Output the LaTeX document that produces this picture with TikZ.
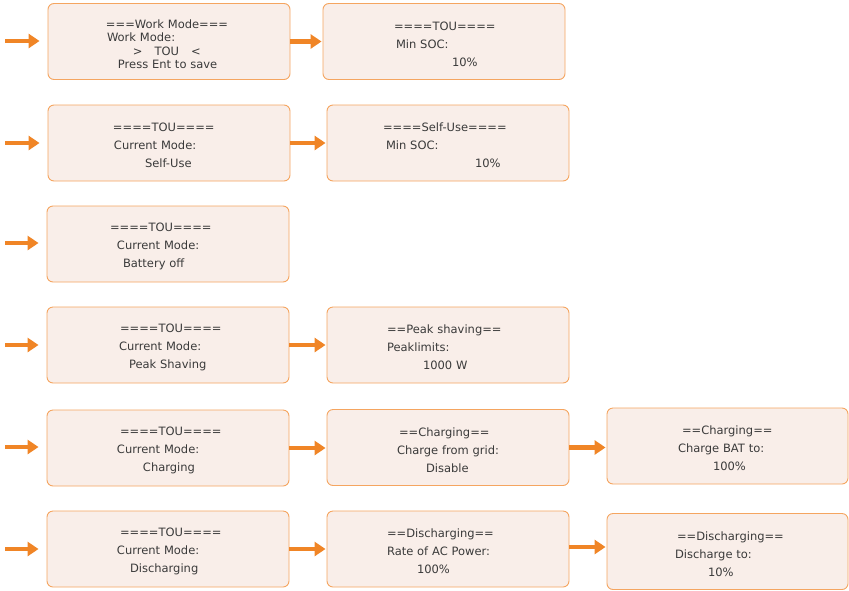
\documentclass[tikz,border=0pt]{standalone}
\usepackage{fontspec}
\setmainfont{DejaVu Sans}
\usepackage{tikz}
\usetikzlibrary{arrows.meta,positioning}

\definecolor{lcdfill}{HTML}{F9EEE9}
\definecolor{lcdline}{HTML}{F5A560}
\definecolor{arrowor}{HTML}{F08526}
\definecolor{lcdtext}{HTML}{3A3A3A}
\newcommand{\ind}[1]{\hspace*{#1pt}}

\begin{document}
\begin{tikzpicture}[x=1pt,y=-1pt,
  flow/.style={draw=arrowor,line width=4.5pt,-{Triangle[length=11pt,width=14pt]}},
  screen/.style={draw=lcdline,fill=lcdfill,line width=.9pt,rounded corners=6pt,
    text=lcdtext,align=left,text width=242pt,minimum height=76pt,
    inner xsep=0pt,inner ysep=0pt,font=\fontsize{11.5}{18}\selectfont,
    execute at begin node={\rule{0pt}{14pt}}}]
\useasboundingbox (0,0) rectangle (849,590);

\node[screen,font=\fontsize{11.5}{13.4}\selectfont] (workmode) at (169,41.5)
  {\ind{58}===Work Mode===\\\ind{59}Work Mode:\\\ind{85}>\hspace{12pt}TOU\hspace{12pt}<\\\ind{70}Press Ent to save};
\node[screen] (toumin) at (444,41.5)
  {\ind{71}====TOU====\\\ind{73}Min SOC:\\\ind{129}10\%};

\node[screen] (selfuse) at (169,143)
  {\ind{65}====TOU====\\\ind{66}Current Mode:\\\ind{97}Self-Use};
\node[screen] (selfmin) at (448,143)
  {\ind{56}====Self-Use====\\\ind{59}Min SOC:\\\ind{148}10\%};

\node[screen] (batoff) at (168,244)
  {\ind{63}====TOU====\\\ind{70}Current Mode:\\\ind{76}Battery off};

\node[screen] (peak) at (168,345)
  {\ind{73}====TOU====\\\ind{72}Current Mode:\\\ind{82}Peak Shaving};
\node[screen] (peaklim) at (448,345)
  {\ind{60}==Peak shaving==\\\ind{60}Peaklimits:\\\ind{96}1000 W};

\node[screen] (charge) at (168,448)
  {\ind{73}====TOU====\\\ind{70}Current Mode:\\\ind{96}Charging};
\node[screen] (chgrid) at (448,447.5)
  {\ind{72}==Charging==\\\ind{70}Charge from grid:\\\ind{99}Disable};
\node[screen,text width=241pt] (chbat) at (727.5,446)
  {\ind{75}==Charging==\\\ind{71}Charge BAT to:\\\ind{106}100\%};

\node[screen] (discharge) at (168,549)
  {\ind{73}====TOU====\\\ind{70}Current Mode:\\\ind{83}Discharging};
\node[screen] (dcrate) at (448,549)
  {\ind{60}==Discharging==\\\ind{60}Rate of AC Power:\\\ind{90}100\%};
\node[screen,text width=241pt] (dcto) at (727.5,551.5)
  {\ind{70}==Discharging==\\\ind{68}Discharge to:\\\ind{101}10\%};

\coordinate (in1) at (5,41);
\coordinate (in2) at (5,143);
\coordinate (in3) at (5,243);
\coordinate (in4) at (5,345);
\coordinate (in5) at (5,447);
\coordinate (in6) at (5,549);

\draw[flow,shorten >=8pt] (in1) -- (in1 -| workmode.west);
\draw[flow,shorten >=8pt] (in2) -- (in2 -| selfuse.west);
\draw[flow,shorten >=8pt] (in3) -- (in3 -| batoff.west);
\draw[flow,shorten >=8pt] (in4) -- (in4 -| peak.west);
\draw[flow,shorten >=8pt] (in5) -- (in5 -| charge.west);
\draw[flow,shorten >=8pt] (in6) -- (in6 -| discharge.west);

\draw[flow,shorten >=1pt] (workmode.east) -- (workmode.east -| toumin.west);
\draw[flow,shorten >=1pt] (selfuse.east) -- (selfuse.east -| selfmin.west);
\draw[flow,shorten >=1pt] (peak.east) -- (peak.east -| peaklim.west);
\draw[flow,shorten >=1pt] (charge.east) -- (charge.east -| chgrid.west);
\draw[flow,shorten >=1pt] (chgrid.east) -- (chgrid.east -| chbat.west);
\draw[flow,shorten >=1pt] (discharge.east) -- (discharge.east -| dcrate.west);
\draw[flow,shorten >=1pt] ([yshift=2pt]dcrate.east) -- ([yshift=2pt]dcrate.east -| dcto.west);
\end{tikzpicture}
\end{document}
